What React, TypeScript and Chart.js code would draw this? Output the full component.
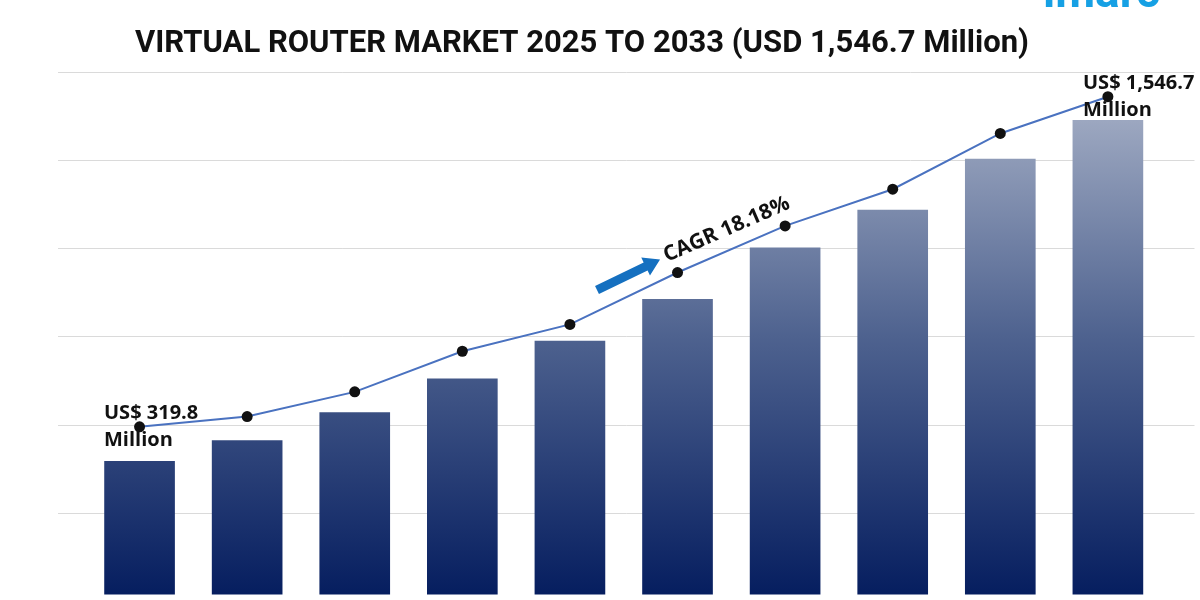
import { useEffect, useRef } from 'react';
import { Chart, registerables } from 'chart.js';

Chart.register(...registerables);

// ---- Data (scale units chosen so gridlines fall every 250) ----
const years = [2024, 2025, 2026, 2027, 2028, 2029, 2030, 2031, 2032, 2033];
const barValues = [397, 456, 535, 631, 738, 856, 1002, 1109, 1253, 1363];
const lineValues = [495, 524, 594, 709, 785, 932, 1064, 1168, 1326, 1430];
const gridValues = [250, 500, 750, 1000, 1250, 1500];

const titleText = 'VIRTUAL ROUTER MARKET 2025 TO 2033 (USD 1,546.7 Million)';
const startLabel = ['US$ 319.8', 'Million'];
const endLabel = ['US$ 1,546.7', 'Million'];
const cagrLabel = 'CAGR 18.18%';
const logoText = 'imarc';

const barGradientPlugin = {
  id: 'barGradient',
  beforeDatasetsDraw(chart: any) {
    const ctx = chart.ctx;
    const meta = chart.getDatasetMeta(0);
    meta.data.forEach((el: any) => {
      const g = ctx.createLinearGradient(0, el.y, 0, el.base);
      g.addColorStop(0, 'rgb(156,167,192)');
      g.addColorStop(0.45, 'rgb(78,98,143)');
      g.addColorStop(1, 'rgb(4,28,94)');
      el.options.backgroundColor = g;
    });
  },
};

const annotationPlugin = {
  id: 'annotations',
  afterDraw(chart: any) {
    const ctx = chart.ctx;
    const area = chart.chartArea;
    ctx.save();

    // logo (cut off at the top edge)
    ctx.fillStyle = 'rgb(22,160,228)';
    ctx.font = 'bold 46px Roboto';
    ctx.textAlign = 'left';
    ctx.textBaseline = 'alphabetic';
    ctx.fillText(logoText, 1043, 7);

    // title
    ctx.fillStyle = '#111111';
    ctx.font = 'bold 31px Roboto';
    ctx.textAlign = 'left';
    ctx.fillText(titleText, 135, 52);

    // start / end labels
    ctx.font = 'bold 20px "Open Sans"';
    ctx.fillStyle = '#111111';
    ctx.fillText(startLabel[0], area.left + 46, 419);
    ctx.fillText(startLabel[1], area.left + 46, 446);
    ctx.fillText(endLabel[0], 1083, 89);
    ctx.fillText(endLabel[1], 1083, 116);

    // CAGR arrow
    ctx.save();
    ctx.translate(597, 290);
    ctx.rotate(-0.45);
    ctx.fillStyle = 'rgb(21,112,192)';
    ctx.beginPath();
    ctx.moveTo(0, -4.5);
    ctx.lineTo(54, -4.5);
    ctx.lineTo(54, -10);
    ctx.lineTo(70, 0);
    ctx.lineTo(54, 10);
    ctx.lineTo(54, 4.5);
    ctx.lineTo(0, 4.5);
    ctx.closePath();
    ctx.fill();
    ctx.restore();

    // CAGR text
    ctx.save();
    ctx.translate(667, 262);
    ctx.rotate(-0.41);
    ctx.font = 'bold 21px "Open Sans"';
    ctx.fillStyle = '#111111';
    ctx.fillText(cagrLabel, 0, 0);
    ctx.restore();

    ctx.restore();
  },
};

export default function App() {
  const canvasRef = useRef<HTMLCanvasElement | null>(null);

  useEffect(() => {
    if (!canvasRef.current) return;
    const chart = new Chart(canvasRef.current, {
      type: 'bar',
      data: {
        datasets: [
          {
            type: 'bar',
            label: 'Market size',
            data: years.map((y, i) => ({ x: y, y: barValues[i] })),
            backgroundColor: 'rgb(60,80,130)',
            borderWidth: 0,
            barThickness: 70,
            order: 1,
          },
          {
            type: 'line',
            label: 'Trend',
            data: years.map((y, i) => ({ x: y, y: lineValues[i] })),
            borderColor: 'rgb(74,114,192)',
            borderWidth: 2,
            pointRadius: 5.5,
            pointBackgroundColor: '#111111',
            pointBorderColor: '#111111',
            pointBorderWidth: 0,
            tension: 0,
            order: 0,
          },
        ],
      } as any,
      options: {
        animation: false,
        responsive: true,
        maintainAspectRatio: false,
        layout: { padding: { left: 58, right: 5, top: 72, bottom: 2 } },
        plugins: {
          legend: { display: false },
          tooltip: { enabled: false },
          title: { display: false },
        },
        scales: {
          x: {
            type: 'linear',
            display: false,
            offset: false,
            min: 2023.242,
            max: 2033.805,
            grid: { display: false },
          },
          y: {
            type: 'linear',
            min: 20,
            max: 1500,
            afterBuildTicks: (scale: any) => {
              scale.ticks = gridValues.map((v) => ({ value: v }));
            },
            afterFit: (scale: any) => {
              scale.width = 0;
            },
            ticks: { display: false },
            border: { display: false },
            grid: { color: 'rgb(218,218,218)', lineWidth: 1, drawTicks: false },
          },
        },
      } as any,
      plugins: [barGradientPlugin, annotationPlugin],
    });
    return () => chart.destroy();
  }, []);

  return (
    <div style={{ position: 'absolute', left: 0, top: 0, width: 1200, height: 600, background: '#ffffff' }}>
      <canvas ref={canvasRef} />
    </div>
  );
}
